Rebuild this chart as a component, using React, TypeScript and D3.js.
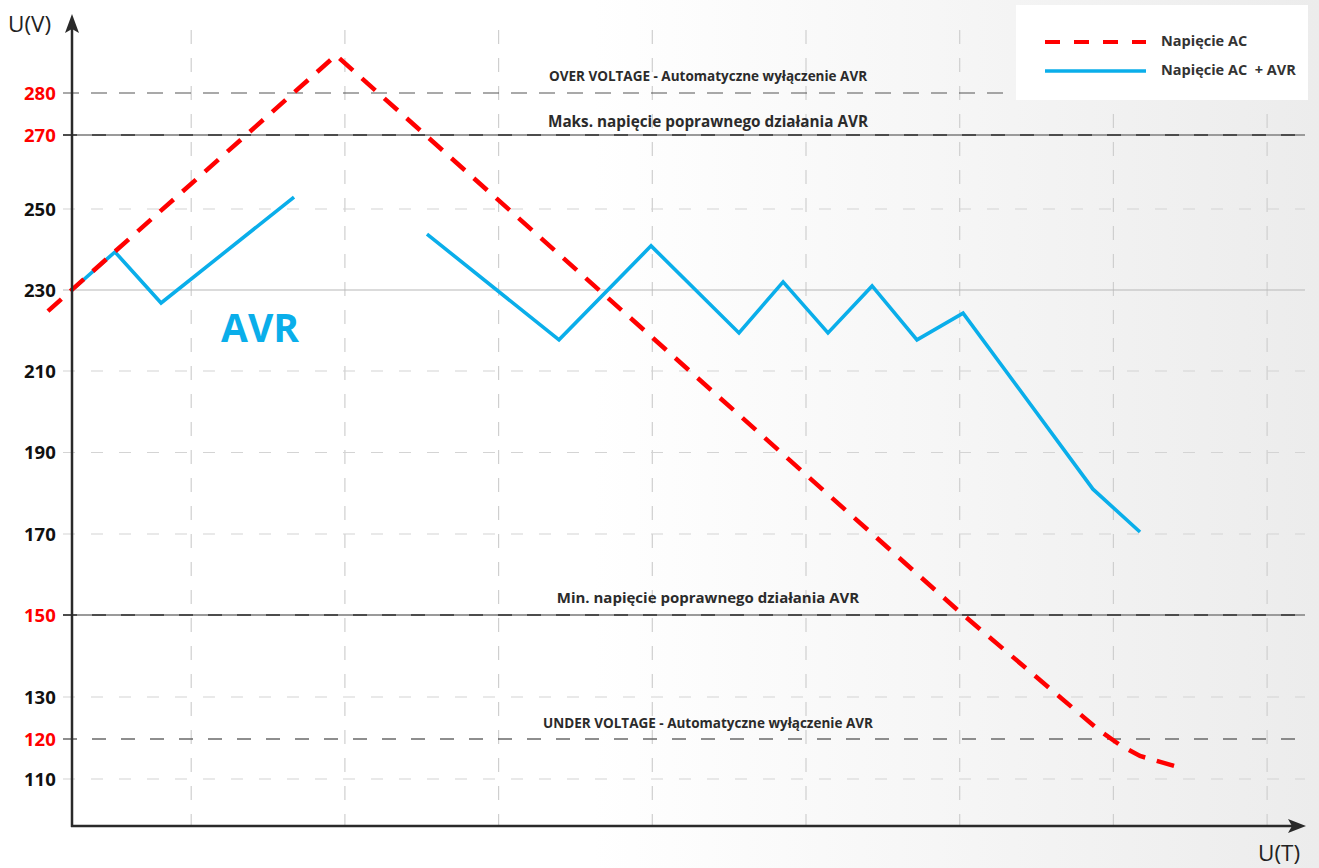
import React from "react";
import * as d3 from "d3";

// ---- data ----
const yTickValues = [110, 120, 130, 150, 170, 190, 210, 230, 250, 270, 280];
const redTicks = [120, 150, 270, 280];
const lightGridValues = [110, 130, 170, 190, 210, 250];
const xGridValues = [1, 2, 3, 4, 5, 6, 7, 8];

// Napięcie AC (red dashed)
const acT = [0.068, 1.942, 6.002, 6.906, 7.043, 7.173, 7.466];
const acV = [224.8, 289.0, 150.7, 122.1, 118.5, 115.75, 112.5];

// Napięcie AC + AVR (blue) – two segments
const avr1T = [0.2245, 0.504, 0.804, 1.669];
const avr1V = [230, 239.4, 226.8, 253.2];
const avr2T = [2.534, 3.393, 3.992, 4.564, 4.851, 5.143, 5.43, 5.722, 6.022, 6.867, 7.173];
const avr2V = [243.8, 217.7, 240.9, 219.4, 232.0, 219.4, 231.0, 217.7, 224.3, 181.0, 170.5];

const levelLabels = [
  { v: 280, text: "OVER VOLTAGE - Automatyczne wyłączenie AVR", size: 13.5, off: 12.3 },
  { v: 270, text: "Maks. napięcie poprawnego działania AVR", size: 15.3, off: 8 },
  { v: 150, text: "Min. napięcie poprawnego działania AVR", size: 15, off: 11.7 },
  { v: 120, text: "UNDER VOLTAGE - Automatyczne wyłączenie AVR", size: 13.5, off: 11 },
];

const legendItems = ["Napięcie AC", "Napięcie AC  + AVR"];

const RED = "#ff0000";
const BLUE = "#0aaeea";
const FONT = "'Open Sans', sans-serif";

export default function App() {
  const W = 1319;
  const H = 868;
  const axisX = 72;
  const axisY = 826;
  const right = 1305;

  const x = d3.scaleLinear().domain([0, 8]).range([37.5, 37.5 + 153.7 * 8]);
  const y = d3
    .scaleLinear()
    .domain([110, 120, 130, 150, 170, 190, 210, 230, 250, 270, 280])
    .range([779, 739, 697, 615, 534, 452.5, 371, 290, 209, 135, 93]);

  const line = d3
    .line<[number, number]>()
    .x((d) => x(d[0]))
    .y((d) => y(d[1]));

  const acPts = acT.map((t, i) => [t, acV[i]] as [number, number]);
  const avr1Pts = avr1T.map((t, i) => [t, avr1V[i]] as [number, number]);
  const avr2Pts = avr2T.map((t, i) => [t, avr2V[i]] as [number, number]);

  const gridStart = 63;

  return (
    <svg
      width={W}
      height={H}
      style={{ position: "absolute", left: 0, top: 0, display: "block" }}
      fontFamily={FONT}
    >
      <defs>
        <linearGradient id="bg" x1="0" y1="0" x2="1" y2="0">
          <stop offset="0" stopColor="#ffffff" />
          <stop offset="0.45" stopColor="#ffffff" />
          <stop offset="1" stopColor="#ececec" />
        </linearGradient>
      </defs>
      <rect x={0} y={0} width={W} height={H} fill="url(#bg)" />

      {/* vertical grid */}
      {xGridValues.map((t) => (
        <line
          key={"vx" + t}
          x1={x(t)}
          x2={x(t)}
          y1={30}
          y2={axisY}
          stroke="#cfcfcf"
          strokeWidth={1.2}
          strokeDasharray="14 14"
        />
      ))}

      {/* light horizontal grid */}
      {lightGridValues.map((v) => (
        <line
          key={"hg" + v}
          x1={gridStart}
          x2={right}
          y1={y(v)}
          y2={y(v)}
          stroke="#d4d4d4"
          strokeWidth={1.2}
          strokeDasharray="12 16"
        />
      ))}

      {/* 230 nominal line */}
      <line x1={gridStart} x2={right} y1={y(230)} y2={y(230)} stroke="#b8b8b8" strokeWidth={1.2} />

      {/* 270 and 150 limit lines */}
      {[270, 150].map((v) => (
        <g key={"lim" + v}>
          <line x1={gridStart} x2={right} y1={y(v)} y2={y(v)} stroke="#9a9a9a" strokeWidth={2} />
          <line
            x1={gridStart}
            x2={right}
            y1={y(v)}
            y2={y(v)}
            stroke="#333"
            strokeWidth={1.6}
            strokeDasharray="14 15"
          />
        </g>
      ))}

      {/* 280 over voltage */}
      <line
        x1={gridStart}
        x2={1007}
        y1={y(280)}
        y2={y(280)}
        stroke="#555"
        strokeWidth={1.2}
        strokeDasharray="16 12"
      />
      {/* 120 under voltage */}
      <line
        x1={gridStart}
        x2={right}
        y1={y(120)}
        y2={y(120)}
        stroke="#6a6a6a"
        strokeWidth={1.5}
        strokeDasharray="14 15"
      />

      {/* level labels */}
      {levelLabels.map((d) => (
        <text
          key={"lbl" + d.v}
          x={708}
          y={y(d.v) - d.off}
          textAnchor="middle"
          fontSize={d.size}
          fontWeight={700}
          fill="#2b2b2b"
        >
          {d.text}
        </text>
      ))}

      {/* y tick labels */}
      {yTickValues.map((v) => (
        <text
          key={"yt" + v}
          x={24}
          y={y(v)}
          dy="0.36em"
          fontSize={18.5}
          fontWeight={700}
          fill={redTicks.includes(v) ? RED : "#111"}
        >
          {v}
        </text>
      ))}

      {/* series */}
      <path d={line(avr1Pts) || ""} fill="none" stroke={BLUE} strokeWidth={3.6} strokeLinejoin="miter" />
      <path d={line(avr2Pts) || ""} fill="none" stroke={BLUE} strokeWidth={3.6} strokeLinejoin="miter" />
      <path
        d={line(acPts) || ""}
        fill="none"
        stroke={RED}
        strokeWidth={4.5}
        strokeDasharray="18 12"
      />

      {/* AVR big label */}
      <text x={221} y={342} fontSize={39} fontWeight={700} fill={BLUE}>
        AVR
      </text>

      {/* axes */}
      <line x1={axisX} x2={axisX} y1={axisY + 1} y2={26} stroke="#2a2a2a" strokeWidth={2.5} />
      <line x1={axisX - 1} x2={1295} y1={axisY} y2={axisY} stroke="#2a2a2a" strokeWidth={2.5} />
      <path d={`M${axisX},14 L${axisX + 7},33 L${axisX},29 L${axisX - 7},33 Z`} fill="#2a2a2a" />
      <path d={`M1306,${axisY} L1288,${axisY + 7} L1292,${axisY} L1288,${axisY - 7} Z`} fill="#2a2a2a" />
      <text x={8} y={32} fontSize={22.5} fill="#222">
        U(V)
      </text>
      <text x={1258} y={861} fontSize={22.5} fill="#222">
        U(T)
      </text>

      {/* legend */}
      <rect x={1016} y={5} width={292} height={95} fill="#ffffff" />
      <line x1={1045} x2={1146} y1={42} y2={42} stroke={RED} strokeWidth={4} strokeDasharray="15 14" />
      <line x1={1045} x2={1146} y1={71} y2={71} stroke={BLUE} strokeWidth={3.5} />
      {legendItems.map((t, i) => (
        <text
          key={t}
          x={1161}
          y={46 + i * 29}
          fontSize={14.5}
          fontWeight={700}
          fill="#333"
          style={{ whiteSpace: "pre" }}
        >
          {t}
        </text>
      ))}
    </svg>
  );
}
